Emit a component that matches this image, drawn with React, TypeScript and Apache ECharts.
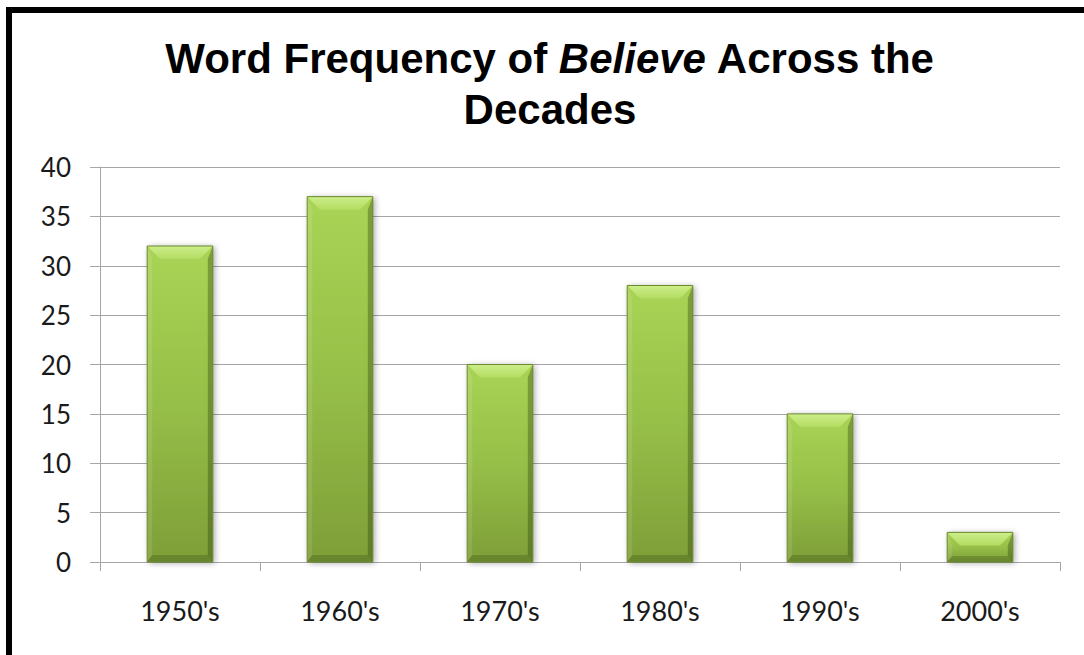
import React, { useEffect, useRef } from "react";
import * as echarts from "echarts";

const categories = ["1950's", "1960's", "1970's", "1980's", "1990's", "2000's"];
const values = [32, 37, 20, 28, 15, 3];
const yMin = 0;
const yMax = 40;
const yStep = 5;

export default function App() {
  const ref = useRef<HTMLDivElement>(null);
  useEffect(() => {
    if (!ref.current) return;
    const chart = echarts.init(ref.current, undefined, { renderer: "svg" });
    const axisGray = "#a6a6a6";
    const labelFont = "Lato, 'Noto Sans', sans-serif";
    const titleFont = "'Liberation Sans', Arial, sans-serif";
    const option: any = {
      animation: false,
      backgroundColor: "#ffffff",
      title: {
        left: 550,
        top: 33,
        padding: 0,
        textAlign: "center",
        text: "{a|Word Frequency of }{i|Believe}{a| Across the}\n{a|Decades}",
        textStyle: {
          rich: {
            a: {
              fontFamily: titleFont,
              fontWeight: "bold",
              fontSize: 42,
              lineHeight: 51,
              color: "#000000",
            },
            i: {
              fontFamily: titleFont,
              fontWeight: "bold",
              fontStyle: "italic",
              fontSize: 42,
              lineHeight: 51,
              color: "#000000",
            },
          },
        },
      },
      graphic: [
        {
          type: "rect",
          shape: { x: 9, y: 10, width: 2000, height: 2000 },
          style: { fill: "none", stroke: "#000000", lineWidth: 6 },
          silent: true,
          z: 100,
        },
      ],
      grid: { left: 100, right: 24, top: 167, bottom: 93 },
      xAxis: {
        type: "category",
        data: categories,
        axisLine: { show: true, lineStyle: { color: axisGray, width: 1 } },
        axisTick: { show: true, length: 9, lineStyle: { color: axisGray } },
        axisLabel: {
          color: "#1a1a1a",
          fontSize: 27,
          fontFamily: labelFont,
          margin: 35,
        },
        splitLine: { show: false },
      },
      yAxis: {
        type: "value",
        min: yMin,
        max: yMax,
        interval: yStep,
        axisLine: { show: true, lineStyle: { color: axisGray, width: 1 } },
        axisTick: { show: true, length: 10, lineStyle: { color: axisGray } },
        axisLabel: {
          color: "#1a1a1a",
          fontSize: 26,
          fontFamily: labelFont,
          margin: 29,
        },
        splitLine: { show: true, lineStyle: { color: axisGray, width: 1 } },
      },
      series: [
        {
          type: "custom",
          data: values.map((v, i) => [i, v]),
          encode: { x: 0, y: 1 },
          renderItem: (params: any, api: any) => {
            const idx = api.value(0);
            const val = api.value(1);
            const top = api.coord([idx, val]);
            const base = api.coord([idx, 0]);
            const w = api.size([1, 0])[0] * 0.41;
            const x0 = top[0] - w / 2;
            const x1 = top[0] + w / 2;
            const y0 = top[1];
            const y1 = base[1];
            const h = y1 - y0;
            const b = Math.min(13, h * 0.45);
            const bb = Math.min(7, h * 0.2);
            const s = 5;
            return {
              type: "group",
              children: [
                {
                  type: "rect",
                  shape: { x: x0, y: y0, width: w, height: h },
                  style: {
                    fill: new echarts.graphic.LinearGradient(0, 0, 0, 1, [
                      { offset: 0, color: "#a9d455" },
                      { offset: 0.5, color: "#96bf48" },
                      { offset: 1, color: "#7e9e38" },
                    ]),
                    shadowColor: "rgba(0,0,0,0.35)",
                    shadowBlur: 6,
                    shadowOffsetX: 2,
                    shadowOffsetY: 1,
                  },
                },
                {
                  type: "polygon",
                  shape: {
                    points: [
                      [x0, y0],
                      [x0 + s, y0 + b],
                      [x0 + s, y1 - bb],
                      [x0, y1],
                    ],
                  },
                  style: { fill: "rgba(255,255,255,0.10)" },
                },
                {
                  type: "polygon",
                  shape: {
                    points: [
                      [x1, y0],
                      [x1 - s, y0 + b],
                      [x1 - s, y1 - bb],
                      [x1, y1],
                    ],
                  },
                  style: { fill: "rgba(40,60,10,0.35)" },
                },
                {
                  type: "polygon",
                  shape: {
                    points: [
                      [x0, y1],
                      [x1, y1],
                      [x1 - s, y1 - bb],
                      [x0 + s, y1 - bb],
                    ],
                  },
                  style: { fill: "rgba(40,60,10,0.25)" },
                },
                {
                  type: "polygon",
                  shape: {
                    points: [
                      [x0, y0],
                      [x1, y0],
                      [x1 - b, y0 + b],
                      [x0 + b, y0 + b],
                    ],
                  },
                  style: {
                    fill: new echarts.graphic.LinearGradient(0, 0, 0, 1, [
                      { offset: 0, color: "#cdee8a" },
                      { offset: 1, color: "#b3dc62" },
                    ]),
                  },
                },
                {
                  type: "rect",
                  shape: { x: x0, y: y0, width: w, height: h },
                  style: { fill: "none", stroke: "#6b8a2e", lineWidth: 1 },
                },
              ],
            };
          },
        },
      ],
    };
    chart.setOption(option);
    return () => chart.dispose();
  }, []);
  return (
    <div
      ref={ref}
      style={{
        position: "fixed",
        left: 0,
        top: 0,
        width: 1084,
        height: 655,
        background: "#ffffff",
      }}
    />
  );
}
